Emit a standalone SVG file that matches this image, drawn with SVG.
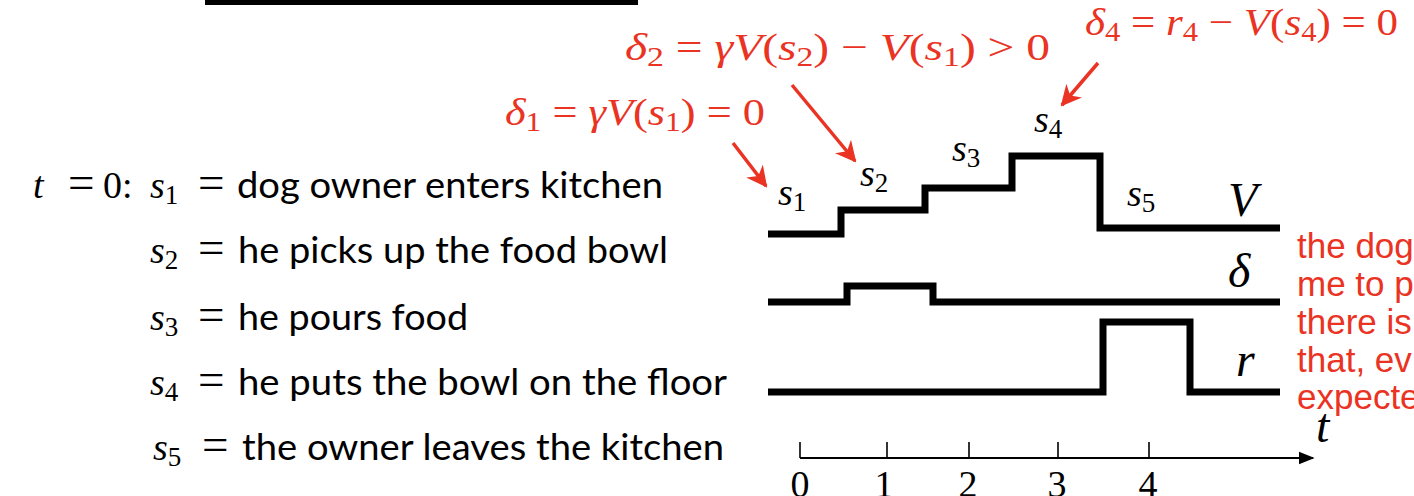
<svg xmlns="http://www.w3.org/2000/svg" width="1414" height="496" viewBox="0 0 1414 496">
<defs>
<marker id="ra" viewBox="0 0 10 10" refX="9" refY="5" markerWidth="6" markerHeight="6" orient="auto" markerUnits="strokeWidth">
<path d="M0,0 L10,5 L0,10 L3,5 Z" fill="#EA3323"/>
</marker>
<marker id="ka" viewBox="0 0 10 10" refX="9" refY="5" markerWidth="8" markerHeight="8" orient="auto" markerUnits="strokeWidth">
<path d="M0,1 L10,5 L0,9 Z" fill="#000"/>
</marker>
</defs>
<style>
.m{font-family:"Liberation Serif","DejaVu Serif",serif;font-size:38px;fill:#000}
.i{font-style:italic}
.sub{font-size:27px;font-style:normal}
.eq{font-size:47px}
.big{font-size:48px}
.t{font-family:Lato,"Open Sans",sans-serif;font-size:36px;fill:#000}
.red{fill:#EA3323}
.note{font-family:"Liberation Sans",Arial,sans-serif;font-size:35px;fill:#EA3323}
.wave{fill:none;stroke:#000;stroke-width:7;stroke-linejoin:miter;stroke-linecap:butt}
.tick{stroke:#000;stroke-width:1.6}
.rarrow{stroke:#EA3323;stroke-width:3.5;fill:none;marker-end:url(#ra)}
</style>
<rect width="1414" height="496" fill="#fff"/>
<rect id="topbar" x="205" y="0" width="433" height="5" fill="#000"/>

<g id="states-list">
<text class="m" y="198"><tspan x="33" class="i">t</tspan><tspan x="68" class="eq">=</tspan><tspan x="103">0:</tspan><tspan x="150" class="i">s</tspan><tspan class="sub" dy="6">1</tspan><tspan x="198" dy="-6" class="eq">=</tspan></text>
<text class="t" x="237" y="198" textLength="426" lengthAdjust="spacingAndGlyphs">dog owner enters kitchen</text>
<text class="m" y="263"><tspan x="150" class="i">s</tspan><tspan class="sub" dy="6">2</tspan><tspan x="198" dy="-6" class="eq">=</tspan></text>
<text class="t" x="238" y="263" textLength="430" lengthAdjust="spacingAndGlyphs">he picks up the food bowl</text>
<text class="m" y="330"><tspan x="150" class="i">s</tspan><tspan class="sub" dy="6">3</tspan><tspan x="198" dy="-6" class="eq">=</tspan></text>
<text class="t" x="238" y="330" textLength="230" lengthAdjust="spacingAndGlyphs">he pours food</text>
<text class="m" y="395"><tspan x="150" class="i">s</tspan><tspan class="sub" dy="6">4</tspan><tspan x="198" dy="-6" class="eq">=</tspan></text>
<text class="t" x="238" y="395" textLength="489" lengthAdjust="spacingAndGlyphs">he puts the bowl on the floor</text>
<text class="m" y="460"><tspan x="153" class="i">s</tspan><tspan class="sub" dy="6">5</tspan><tspan x="202" dy="-6" class="eq">=</tspan></text>
<text class="t" x="242" y="460" textLength="482" lengthAdjust="spacingAndGlyphs">the owner leaves the kitchen</text>
</g>

<g id="formulas">
<text id="f1" class="m red" x="505" y="125" textLength="260" lengthAdjust="spacingAndGlyphs"><tspan class="i">δ</tspan><tspan class="sub" dy="6">1</tspan><tspan dy="-6"> = </tspan><tspan class="i">γV</tspan>(<tspan class="i">s</tspan><tspan class="sub" dy="6">1</tspan><tspan dy="-6">) = 0</tspan></text>
<text id="f2" class="m red" x="625" y="60" textLength="425" lengthAdjust="spacingAndGlyphs"><tspan class="i">δ</tspan><tspan class="sub" dy="6">2</tspan><tspan dy="-6"> = </tspan><tspan class="i">γV</tspan>(<tspan class="i">s</tspan><tspan class="sub" dy="6">2</tspan><tspan dy="-6">) − </tspan><tspan class="i">V</tspan>(<tspan class="i">s</tspan><tspan class="sub" dy="6">1</tspan><tspan dy="-6">) &gt; 0</tspan></text>
<text id="f4" class="m red" x="1085" y="35" textLength="313" lengthAdjust="spacingAndGlyphs"><tspan class="i">δ</tspan><tspan class="sub" dy="6">4</tspan><tspan dy="-6"> = </tspan><tspan class="i">r</tspan><tspan class="sub" dy="6">4</tspan><tspan dy="-6"> − </tspan><tspan class="i">V</tspan>(<tspan class="i">s</tspan><tspan class="sub" dy="6">4</tspan><tspan dy="-6">) = 0</tspan></text>
</g>

<g id="connectors">
<line class="rarrow" x1="733" y1="143" x2="766" y2="186"/>
<line class="rarrow" x1="792" y1="85" x2="855" y2="161"/>
<line class="rarrow" x1="1098" y1="63" x2="1062" y2="105"/>
</g>

<g id="plot">
<path id="V" class="wave" d="M768,234 H841 V210 H925 V188 H1012 V156 H1100 V228 H1280"/>
<path id="delta" class="wave" d="M768,302 H847 V286 H933 V302 H1280"/>
<path id="r" class="wave" d="M768,392 H1103 V322 H1190 V392 H1280"/>
<g id="state-labels">
<text class="m i" x="778" y="205">s<tspan class="sub" dy="6">1</tspan></text>
<text class="m i" x="860" y="186">s<tspan class="sub" dy="6">2</tspan></text>
<text class="m i" x="952" y="161">s<tspan class="sub" dy="6">3</tspan></text>
<text class="m i" x="1034" y="132">s<tspan class="sub" dy="6">4</tspan></text>
<text class="m i" x="1127" y="206">s<tspan class="sub" dy="6">5</tspan></text>
</g>
<text class="m i big" x="1228" y="216">V</text>
<text class="m i big" x="1228" y="287">δ</text>
<text class="m i big" x="1236" y="376">r</text>
</g>

<g id="axis">
<line x1="800" y1="458" x2="1313" y2="458" stroke="#000" stroke-width="2" marker-end="url(#ka)"/>
<line class="tick" x1="800" y1="442" x2="800" y2="458"/>
<line class="tick" x1="887" y1="442" x2="887" y2="458"/>
<line class="tick" x1="969" y1="442" x2="969" y2="458"/>
<line class="tick" x1="1058" y1="442" x2="1058" y2="458"/>
<line class="tick" x1="1149" y1="442" x2="1149" y2="458"/>
<text class="m i big" x="1316" y="442">t</text>
<g class="m" text-anchor="middle">
<text x="800" y="497">0</text>
<text x="884" y="497">1</text>
<text x="968" y="497">2</text>
<text x="1057" y="497">3</text>
<text x="1148" y="497">4</text>
</g>
</g>

<g id="note">
<text class="note" x="1297" y="258">the dog</text>
<text class="note" x="1297" y="296">me to p</text>
<text class="note" x="1297" y="334">there is</text>
<text class="note" x="1297" y="372">that, ev</text>
<text class="note" x="1297" y="409">expecte</text>
</g>
</svg>
